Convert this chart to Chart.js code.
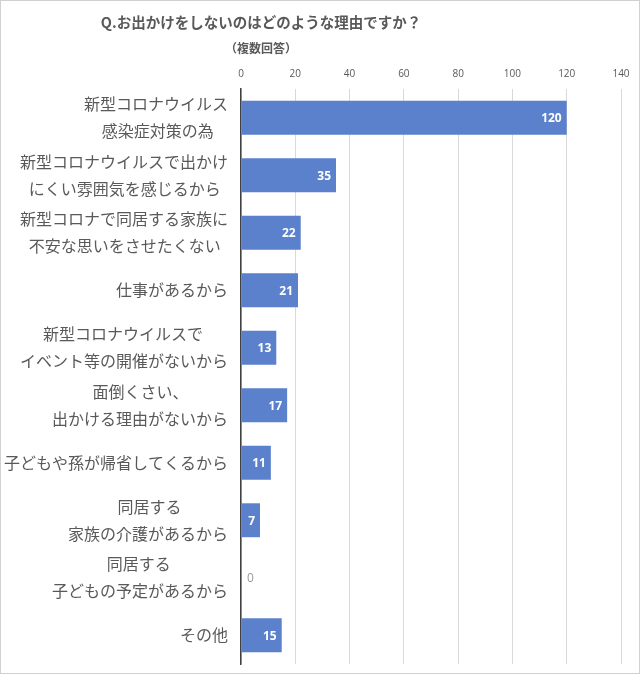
<!DOCTYPE html>
<html><head><meta charset="utf-8">
<script src="https://cdn.jsdelivr.net/npm/chart.js@4"></script>
<style>
html,body{margin:0;padding:0;background:#fff;}
#wrap{position:relative;width:640px;height:674px;overflow:hidden;}
#c{position:absolute;left:0;top:0;}
.frame{position:absolute;left:0;top:0;width:640px;height:674px;box-sizing:border-box;border:1px solid #d0d0d0;pointer-events:none;}
.t{position:absolute;left:0;width:522px;text-align:center;font-family:"Noto Sans CJK JP";font-weight:bold;color:#595959;white-space:nowrap;}
</style></head>
<body><div id="wrap">
<canvas id="c" width="640" height="674"></canvas>
<div class="t" style="top:11px;font-size:14.5px;line-height:22px">Q.お出かけをしないのはどのような理由ですか？</div>
<div class="t" style="top:38px;font-size:12px;line-height:20px">（複数回答）</div>
<div class="frame"></div>
</div>
<script>
const categories = [
  ['新型コロナウイルス','感染症対策の為'],
  ['新型コロナウイルスで出かけ','にくい雰囲気を感じるから'],
  ['新型コロナで同居する家族に','不安な思いをさせたくない'],
  '仕事があるから',
  ['新型コロナウイルスで','イベント等の開催がないから'],
  ['面倒くさい、','出かける理由がないから'],
  '子どもや孫が帰省してくるから',
  ['同居する','家族の介護があるから'],
  ['同居する','子どもの予定があるから'],
  'その他'
];
const values = [120, 35, 22, 21, 13, 17, 11, 7, 0, 15];
const xTicks = [0, 20, 40, 60, 80, 100, 120, 140];

const LABEL_FONT_FAMILY = '"Noto Sans CJK JP", sans-serif';
const LABEL_FONT_SIZE = 16;
const mctx = document.createElement('canvas').getContext('2d');
function centerLines(label){
  if(!Array.isArray(label)) return label;
  mctx.font = LABEL_FONT_SIZE + 'px ' + LABEL_FONT_FAMILY;
  const ws = label.map(s => mctx.measureText(s).width);
  const max = Math.max(...ws);
  const sp = mctx.measureText(' ').width || 4;
  return label.map((s,i) => s + ' '.repeat(Math.max(0, Math.round((max - ws[i]) / 2 / sp))));
}

const valueLabels = {
  id: 'valueLabels',
  afterDatasetsDraw(chart){
    const ctx = chart.ctx;
    const meta = chart.getDatasetMeta(0);
    meta.data.forEach((bar, i) => {
      const v = values[i];
      ctx.save();
      ctx.textBaseline = 'middle';
      if (v > 0) {
        ctx.font = 'bold 12px "Open Sans", sans-serif';
        ctx.fillStyle = '#ffffff';
        ctx.textAlign = 'right';
        ctx.fillText(String(v), bar.x - 5, bar.y + 1);
      } else {
        ctx.font = '12px "Open Sans", sans-serif';
        ctx.fillStyle = '#999999';
        ctx.textAlign = 'left';
        ctx.fillText(String(v), bar.x + 6, bar.y + 1);
      }
      ctx.restore();
    });
  }
};

new Chart(document.getElementById('c'), {
  type: 'bar',
  data: {
    labels: categories,
    datasets: [{
      data: values,
      backgroundColor: '#5b80cc',
      borderWidth: 0,
      barPercentage: 0.59,
      categoryPercentage: 1
    }]
  },
  options: {
    indexAxis: 'y',
    responsive: false,
    animation: false,
    layout: { padding: { top: 58, right: 19, bottom: 10, left: 0 } },
    plugins: { legend: { display: false }, tooltip: { enabled: false } },
    scales: {
      x: {
        position: 'top',
        min: xTicks[0],
        max: xTicks[xTicks.length - 1],
        afterBuildTicks: s => { s.ticks = xTicks.map(v => ({ value: v })); },
        afterFit: s => { s.height = 31; s.paddingLeft = 0; s.paddingRight = 0; },
        ticks: { color: '#595959', font: { family: '"Open Sans", sans-serif', size: 10 }, padding: 9 },
        grid: { color: '#d9d9d9', lineWidth: 1, drawTicks: false },
        border: { display: false }
      },
      y: {
        afterFit: s => { s.width = 241; s.paddingTop = 0; s.paddingBottom = 0; },
        grid: { display: false, drawTicks: false },
        border: { display: true, color: '#404040', width: 1.5 },
        ticks: {
          autoSkip: false,
          color: '#595959',
          padding: 13,
          font: { family: LABEL_FONT_FAMILY, size: LABEL_FONT_SIZE, lineHeight: 1.7 },
          callback: (v, i) => centerLines(categories[i])
        }
      }
    }
  },
  plugins: [valueLabels]
});
</script>
</body></html>
